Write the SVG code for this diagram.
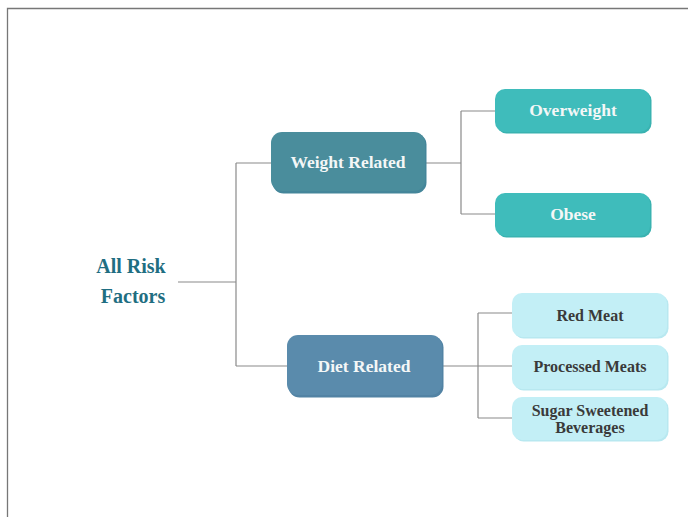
<svg xmlns="http://www.w3.org/2000/svg" width="688" height="517" viewBox="0 0 688 517">
  <style>
    .frame { stroke: #777; stroke-width: 1.3; fill: none; }
    .link { stroke: #8a8a8a; stroke-width: 1.2; fill: none; }
    .lbl { font-family: "Liberation Serif", "DejaVu Serif", serif; font-weight: bold; text-anchor: middle; }
    .light { fill: #f4f7f7; font-size: 17.5px; }
    .dark { fill: #3a3a3a; font-size: 16px; }
  </style>
  <rect width="688" height="517" fill="#ffffff"/>
  <path class="frame" d="M7.5,517 V8.5 H688"/>

  <g id="connectors">
    <path class="link" d="M178,282 H236 M236,163 V366 M236,163 H271 M236,366 H287"/>
    <path class="link" d="M426,163 H461 M461,111 V214 M461,111 H495 M461,214 H495"/>
    <path class="link" d="M443,366 H512 M478,313 V418 M478,313 H512 M478,418 H512"/>
  </g>

  <g id="root">
    <text class="lbl" x="131" y="273" font-size="20" fill="#1f6e82">All Risk</text>
    <text class="lbl" x="133" y="303" font-size="20" fill="#1f6e82">Factors</text>
  </g>

  <g id="weight-related">
    <rect x="272.5" y="133.5" width="154" height="60" rx="11" fill="#44869a"/>
    <rect x="271" y="132" width="154" height="59" rx="11" fill="#4a8d9c"/>
    <text class="lbl light" x="348" y="168">Weight Related</text>
  </g>

  <g id="overweight">
    <rect x="496.5" y="90.5" width="155" height="43" rx="10" fill="#39b2b0"/>
    <rect x="495" y="89" width="155" height="43" rx="10" fill="#3fbcbb"/>
    <text class="lbl light" x="573" y="116" font-size="16">Overweight</text>
  </g>

  <g id="obese">
    <rect x="496.5" y="194.5" width="155" height="43" rx="10" fill="#39b2b0"/>
    <rect x="495" y="193" width="155" height="43" rx="10" fill="#3fbcbb"/>
    <text class="lbl light" x="573" y="220" font-size="16">Obese</text>
  </g>

  <g id="diet-related">
    <rect x="288.5" y="336.5" width="155" height="61" rx="11" fill="#5283a4"/>
    <rect x="287" y="335" width="155" height="60" rx="11" fill="#5a8bac"/>
    <text class="lbl light" x="364" y="372">Diet Related</text>
  </g>

  <g id="red-meat">
    <rect x="513.5" y="294.5" width="155" height="44" rx="10" fill="#b8e8f0"/>
    <rect x="512" y="293" width="155" height="44" rx="10" fill="#c3eff6"/>
    <text class="lbl dark" x="590" y="321">Red Meat</text>
  </g>

  <g id="processed-meats">
    <rect x="513.5" y="346.5" width="155" height="44" rx="10" fill="#b8e8f0"/>
    <rect x="512" y="345" width="155" height="44" rx="10" fill="#c3eff6"/>
    <text class="lbl dark" x="590" y="372">Processed Meats</text>
  </g>

  <g id="sugar-sweetened-beverages">
    <rect x="513.5" y="398.5" width="155" height="43" rx="10" fill="#b8e8f0"/>
    <rect x="512" y="397" width="155" height="43" rx="10" fill="#c3eff6"/>
    <text class="lbl dark" x="590" y="416">Sugar Sweetened</text>
    <text class="lbl dark" x="590" y="433">Beverages</text>
  </g>
</svg>
